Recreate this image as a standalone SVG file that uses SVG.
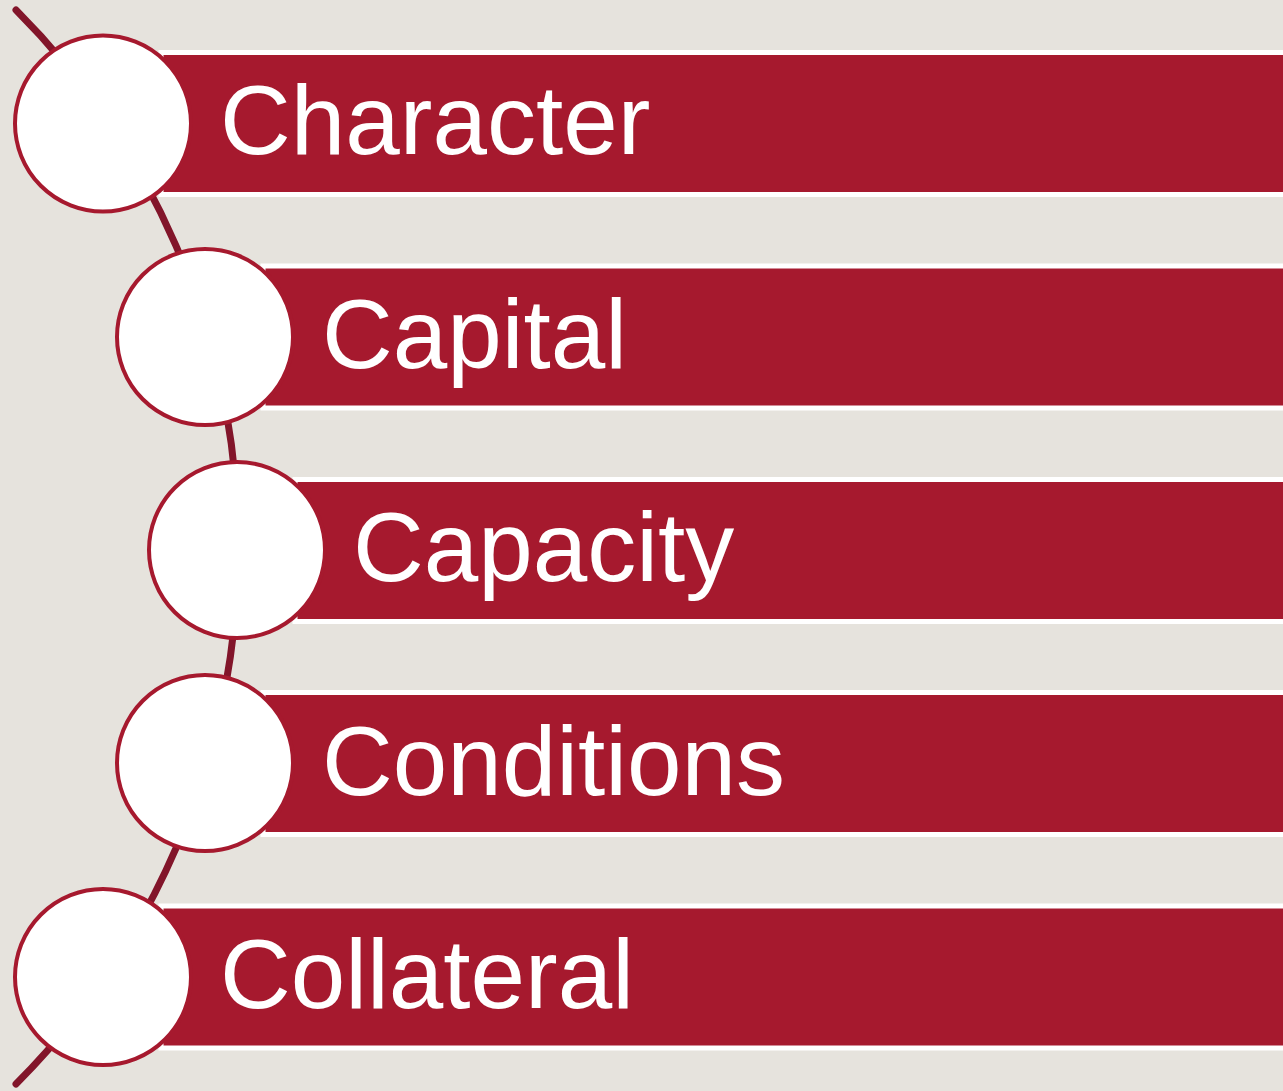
<svg xmlns="http://www.w3.org/2000/svg" width="1283" height="1091" viewBox="0 0 1283 1091">
<style>
.bar{fill:#a6192e;stroke:#ffffff;stroke-width:5}
.dot{fill:#ffffff;stroke:#a6192e;stroke-width:4}
.lbl{fill:#ffffff;font-family:"Liberation Sans",Arial,sans-serif;font-size:98px}
.conn{fill:none;stroke:#82152a;stroke-width:7;stroke-linecap:round}
</style>
<rect x="0" y="0" width="1283" height="1091" fill="#e6e3dd"/>
<g id="connectors">
<path class="conn" d="M 16 10 A 760 760 0 0 1 16 1084"/>
</g>
<g id="node-character">
<rect class="bar" x="161" y="52.5" width="1130" height="142"/>
<circle class="dot" cx="103" cy="123.5" r="88"/>
<text class="lbl" x="220" y="154">Character</text>
</g>
<g id="node-capital">
<rect class="bar" x="263" y="266" width="1030" height="142"/>
<circle class="dot" cx="205" cy="337" r="88"/>
<text class="lbl" x="322" y="368">Capital</text>
</g>
<g id="node-capacity">
<rect class="bar" x="295" y="479.5" width="1000" height="142"/>
<circle class="dot" cx="237" cy="550" r="88"/>
<text class="lbl" x="353" y="581">Capacity</text>
</g>
<g id="node-conditions">
<rect class="bar" x="263" y="692.5" width="1030" height="142"/>
<circle class="dot" cx="205" cy="763" r="88"/>
<text class="lbl" x="322" y="795">Conditions</text>
</g>
<g id="node-collateral">
<rect class="bar" x="161" y="906" width="1130" height="142"/>
<circle class="dot" cx="103" cy="977" r="88"/>
<text class="lbl" x="220" y="1008">Collateral</text>
</g>
</svg>
